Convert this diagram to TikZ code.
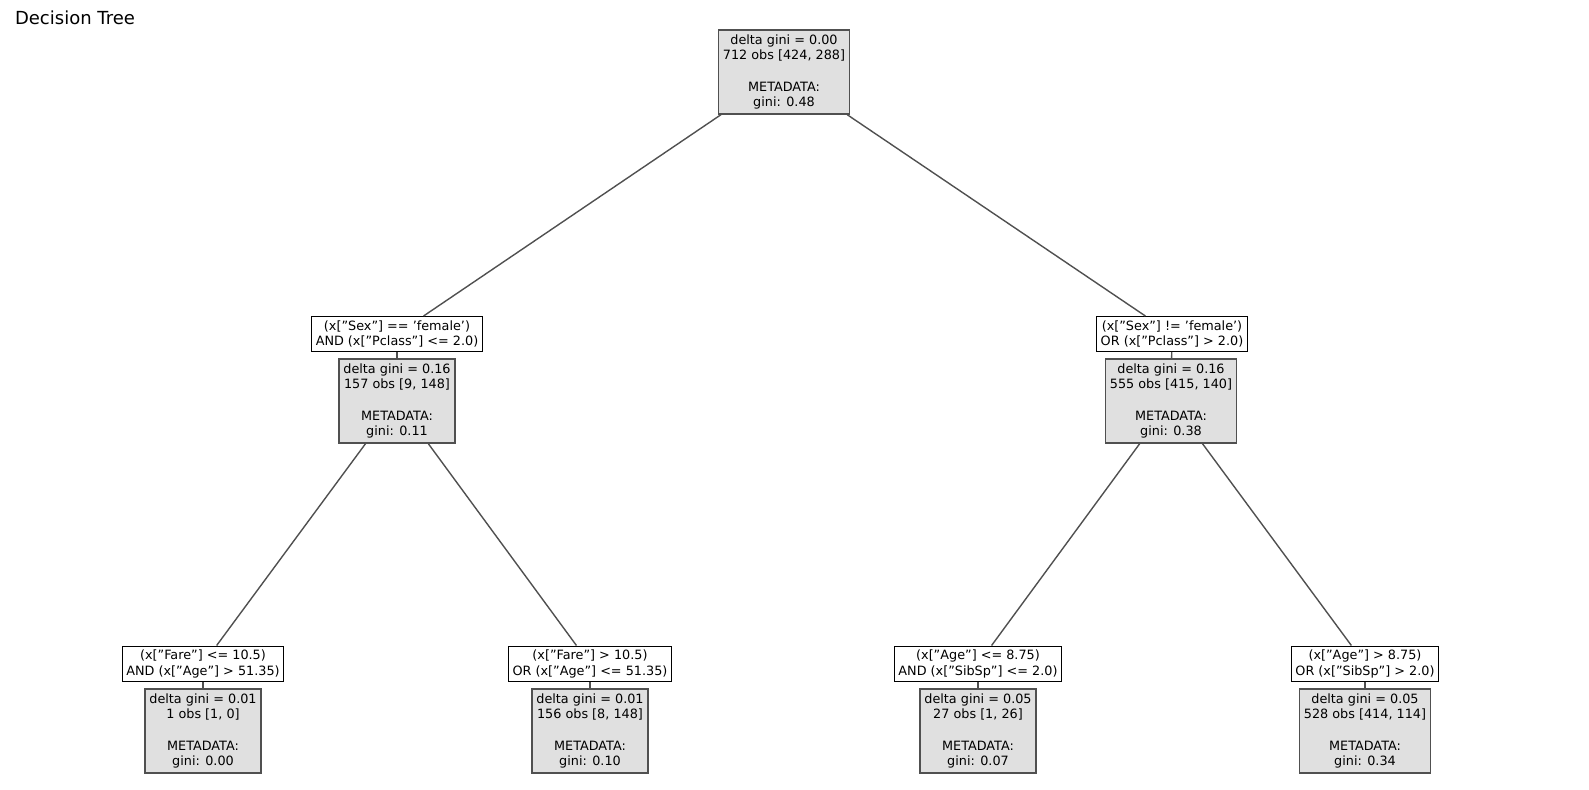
\documentclass[tikz,border=0pt]{standalone}
\usepackage{fontspec}
\setmainfont{DejaVu Sans}
\definecolor{boxgray}{HTML}{E0E0E0}
\definecolor{edgegray}{HTML}{505050}
\tikzset{
	leaf/.style={draw=edgegray,line width=0.9pt,fill=boxgray,align=center,inner sep=2.2pt,font=\fontsize{6.4}{7.8}\selectfont},
	cond/.style={draw=black,line width=0.5pt,fill=white,align=center,inner sep=2pt,font=\fontsize{6.4}{7.8}\selectfont},
	edge/.style={draw=edgegray,line width=0.7pt}
}
\begin{document}
\begin{tikzpicture}[x=0.5pt,y=-0.5pt]
	\useasboundingbox (0,0) rectangle (1589,790);
	\node[anchor=west,font=\fontsize{9}{11}\selectfont] (title) at (8,18) {Decision Tree};

	\node[leaf] (root) at (784,72) {delta gini = 0.00\\712 obs [424, 288]\\[7.8pt]METADATA:\\gini: 0.48};

	% first split
	\node[cond] (cL) at (397,334) {(x["Sex"] == 'female')\\AND (x["Pclass"] <= 2.0)};
	\node[leaf] (nL) at (397,401) {delta gini = 0.16\\157 obs [9, 148]\\[7.8pt]METADATA:\\gini: 0.11};
	\node[cond] (cR) at (1172,334) {(x["Sex"] != 'female')\\OR (x["Pclass"] > 2.0)};
	\node[leaf] (nR) at (1171,401) {delta gini = 0.16\\555 obs [415, 140]\\[7.8pt]METADATA:\\gini: 0.38};

	% second split
	\node[cond] (cLL) at (203,664) {(x["Fare"] <= 10.5)\\AND (x["Age"] > 51.35)};
	\node[leaf] (nLL) at (203,731) {delta gini = 0.01\\1 obs [1, 0]\\[7.8pt]METADATA:\\gini: 0.00};
	\node[cond] (cLR) at (590,664) {(x["Fare"] > 10.5)\\OR (x["Age"] <= 51.35)};
	\node[leaf] (nLR) at (590,731) {delta gini = 0.01\\156 obs [8, 148]\\[7.8pt]METADATA:\\gini: 0.10};
	\node[cond] (cRL) at (978,664) {(x["Age"] <= 8.75)\\AND (x["SibSp"] <= 2.0)};
	\node[leaf] (nRL) at (978,731) {delta gini = 0.05\\27 obs [1, 26]\\[7.8pt]METADATA:\\gini: 0.07};
	\node[cond] (cRR) at (1365,664) {(x["Age"] > 8.75)\\OR (x["SibSp"] > 2.0)};
	\node[leaf] (nRR) at (1365,731) {delta gini = 0.05\\528 obs [414, 114]\\[7.8pt]METADATA:\\gini: 0.34};

	\foreach \a/\b in {root/cL,root/cR,nL/cLL,nL/cLR,nR/cRL,nR/cRR}
		\draw[edge] (\a) -- (\b);
	\foreach \a/\b in {cL/nL,cR/nR,cLL/nLL,cLR/nLR,cRL/nRL,cRR/nRR}
		\draw[edge] (\a) -- (\b);
\end{tikzpicture}
\end{document}
